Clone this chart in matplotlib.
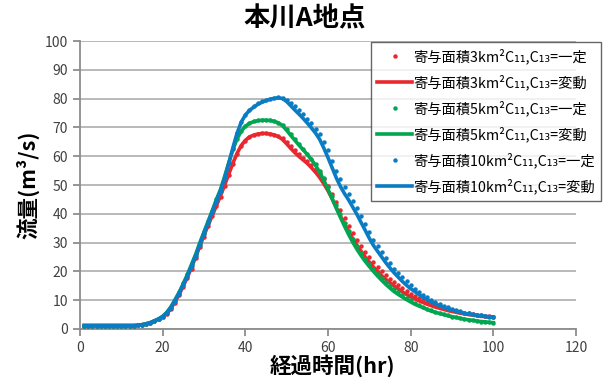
import numpy as np
import matplotlib
matplotlib.use('Agg')
import matplotlib.pyplot as plt
from matplotlib.lines import Line2D

plt.rcParams['font.family'] = ['Noto Sans CJK JP', 'DejaVu Sans']

hours = np.arange(1, 101)

# 寄与面積3km2 (red)
red_const = [1.2] * 13 + [
    1.3, 1.5, 1.8, 2.2, 2.7, 3.3, 4.0, 5.2, 6.9, 9.2,
    11.7, 14.6, 17.6, 21.0, 24.5, 28.3, 32.0, 35.6, 39.2, 42.6,
    46.0, 49.6, 53.4, 57.2, 60.6, 63.4, 65.3, 66.6, 67.3, 67.7,
    67.9, 67.9, 67.8, 67.5, 67.0, 66.2, 64.9, 63.4, 62.0, 60.7,
    59.5, 58.3, 57.0, 55.6, 54.0, 52.0, 49.6, 47.0, 44.2, 41.3,
    38.5, 35.8, 33.3, 31.0, 28.9, 26.9, 25.0, 23.3, 21.7, 20.2,
    18.8, 17.5, 16.3, 15.2, 14.2, 13.2, 12.3, 11.5, 10.8, 10.1,
    9.5, 8.9, 8.4, 7.9, 7.4, 7.0, 6.6, 6.3, 6.0, 5.7,
    5.4, 5.2, 5.0, 4.8, 4.6, 4.4, 4.2]
red_var = [1.2] * 13 + [
    1.3, 1.5, 1.8, 2.2, 2.8, 3.4, 4.1, 5.3, 7.1, 9.5,
    12.0, 15.0, 18.0, 21.5, 25.0, 28.8, 32.5, 36.0, 39.4, 42.8,
    46.3, 50.0, 53.8, 57.6, 61.0, 63.7, 65.5, 66.7, 67.3, 67.7,
    67.9, 67.9, 67.7, 67.4, 66.8, 65.8, 64.3, 62.7, 61.2, 59.9,
    58.7, 57.5, 56.0, 54.4, 52.6, 50.4, 48.0, 45.2, 42.2, 39.2,
    36.4, 33.8, 31.3, 29.0, 27.0, 25.0, 23.2, 21.5, 20.0, 18.5,
    17.2, 16.0, 14.9, 13.9, 12.9, 12.0, 11.2, 10.5, 9.8, 9.2,
    8.6, 8.1, 7.6, 7.2, 6.8, 6.4, 6.1, 5.8, 5.5, 5.3,
    5.0, 4.8, 4.6, 4.4, 4.3, 4.1, 4.0]

# 寄与面積5km2 (green)
green_const = [1.2] * 13 + [
    1.3, 1.5, 1.8, 2.2, 2.8, 3.5, 4.4, 5.8, 7.7, 10.2,
    12.8, 15.8, 19.0, 22.5, 26.0, 30.0, 33.7, 37.4, 41.1, 45.0,
    48.6, 53.1, 57.9, 62.4, 66.1, 68.8, 70.5, 71.5, 72.1, 72.4,
    72.6, 72.6, 72.5, 72.2, 71.7, 70.8, 69.4, 67.6, 65.8, 64.1,
    62.5, 60.9, 59.2, 57.3, 55.0, 52.3, 49.3, 46.2, 43.0, 39.8,
    36.8, 33.9, 31.2, 28.7, 26.4, 24.4, 22.5, 20.8, 19.2, 17.7,
    16.3, 15.0, 13.8, 12.7, 11.7, 10.8, 9.9, 9.1, 8.4, 7.7,
    7.1, 6.5, 6.0, 5.5, 5.1, 4.7, 4.3, 4.0, 3.7, 3.4,
    3.2, 3.0, 2.8, 2.6, 2.4, 2.3, 2.2]
green_var = [1.2] * 13 + [
    1.3, 1.5, 1.8, 2.2, 2.8, 3.5, 4.4, 5.8, 7.7, 10.2,
    12.8, 15.8, 19.0, 22.5, 26.0, 30.0, 33.7, 37.4, 41.1, 45.0,
    48.5, 53.0, 57.8, 62.3, 66.0, 68.7, 70.4, 71.4, 72.0, 72.3,
    72.5, 72.5, 72.4, 72.1, 71.6, 70.6, 69.0, 67.2, 65.5, 63.8,
    62.2, 60.6, 58.8, 56.8, 54.4, 51.6, 48.5, 45.3, 42.0, 38.8,
    35.7, 32.8, 30.1, 27.7, 25.5, 23.5, 21.7, 20.0, 18.4, 16.9,
    15.5, 14.2, 13.0, 12.0, 11.1, 10.2, 9.4, 8.6, 8.0, 7.4,
    6.8, 6.2, 5.8, 5.4, 5.0, 4.6, 4.3, 4.0, 3.7, 3.4,
    3.2, 3.0, 2.8, 2.6, 2.5, 2.3, 2.2]

# 寄与面積10km2 (blue)
blue_const = [1.2] * 13 + [
    1.3, 1.5, 1.8, 2.2, 2.8, 3.5, 4.3, 5.6, 7.4, 9.8,
    12.3, 15.3, 18.3, 21.8, 25.3, 29.2, 33.1, 36.9, 40.7, 44.5,
    48.0, 52.5, 57.5, 63.0, 68.0, 71.8, 74.4, 76.2, 77.5, 78.4,
    79.1, 79.6, 80.0, 80.3, 80.5, 80.3, 79.6, 78.5, 77.3, 76.0,
    74.6, 73.0, 71.4, 69.6, 67.6, 65.0, 62.0, 58.5, 55.0, 52.0,
    49.3, 47.0, 44.5, 42.0, 39.3, 36.5, 33.6, 31.0, 28.8, 26.7,
    24.7, 22.8, 21.0, 19.4, 17.9, 16.5, 15.2, 14.0, 12.9, 11.9,
    11.0, 10.1, 9.4, 8.7, 8.1, 7.5, 7.0, 6.5, 6.1, 5.7,
    5.4, 5.1, 4.9, 4.7, 4.5, 4.3, 4.2]
blue_var = [1.2] * 13 + [
    1.3, 1.5, 1.8, 2.2, 2.8, 3.5, 4.3, 5.6, 7.5, 10.0,
    12.5, 15.5, 18.5, 22.0, 25.5, 29.5, 33.3, 37.0, 40.8, 44.5,
    48.0, 52.5, 57.5, 63.0, 68.0, 71.8, 74.3, 75.9, 77.0, 78.0,
    78.7, 79.3, 79.8, 80.1, 80.3, 80.0, 79.0, 77.5, 76.0, 74.6,
    73.1, 71.5, 69.8, 68.0, 65.8, 62.8, 59.5, 56.0, 52.5, 49.5,
    47.0, 44.8, 42.3, 39.8, 37.0, 34.3, 31.5, 29.0, 27.0, 25.0,
    23.0, 21.2, 19.5, 18.0, 16.5, 15.2, 14.0, 13.0, 12.0, 11.0,
    10.2, 9.4, 8.7, 8.1, 7.5, 7.0, 6.6, 6.2, 5.8, 5.5,
    5.2, 5.0, 4.8, 4.6, 4.4, 4.3, 4.2]

labels = ['寄与面積3km²C₁₁,C₁₃=一定', '寄与面積3km²C₁₁,C₁₃=変動',
          '寄与面積5km²C₁₁,C₁₃=一定', '寄与面積5km²C₁₁,C₁₃=変動',
          '寄与面積10km²C₁₁,C₁₃=一定', '寄与面積10km²C₁₁,C₁₃=変動']
colors = ['#e8282e', '#00a650', '#0a7cc4']

fig = plt.figure(figsize=(6.03, 3.79), dpi=100)
ax = fig.add_axes([80 / 603, 1 - 329 / 379, 496 / 603, 288 / 379])

series = [(red_const, red_var), (green_const, green_var), (blue_const, blue_var)]
handles = []
for (const, var), c, i in zip(series, colors, range(3)):
    ax.plot(hours, const, linestyle='none', marker='o', ms=3.2, color=c,
            markeredgewidth=0, zorder=3 + 2 * i)
    ax.plot(hours, var, color=c, lw=2.6, zorder=4 + 2 * i)
    handles.append(Line2D([], [], linestyle='none', marker='o', ms=3.2,
                          color=c, markeredgewidth=0))
    handles.append(Line2D([], [], color=c, lw=2.6))

ax.set_xlim(0, 120)
ax.set_ylim(0, 100)
ax.set_xticks(np.arange(0, 121, 20))
ax.set_yticks(np.arange(0, 101, 10))
ax.grid(axis='y', color='#a6a6a6', lw=1.1)
ax.set_axisbelow(True)
for s in ['top', 'right']:
    ax.spines[s].set_visible(False)
for s in ['left', 'bottom']:
    ax.spines[s].set_color('#8c8c8c')
    ax.spines[s].set_linewidth(1.3)
ax.tick_params(colors='#8c8c8c', labelcolor='#404040', labelsize=10,
               length=5, width=1.3)

# title is centred on the whole chart, not the plot area
fig.text(305 / 603, 1 - 19 / 379, '本川A地点', fontsize=19, fontweight='bold',
         ha='center', va='center')
fig.text(332 / 603, 1 - 366 / 379, '経過時間(hr)', fontsize=15.5,
         fontweight='bold', ha='center', va='center')
ax.set_ylabel('流量(m³/s)', fontsize=15.5, fontweight='bold', labelpad=4)

leg = fig.legend(handles, labels, loc='upper left',
                 bbox_to_anchor=(371 / 603, 1 - 42 / 379), fontsize=10.3,
                 frameon=True, fancybox=False, edgecolor='#404040',
                 handlelength=2.4, labelspacing=0.72, borderpad=0.45,
                 handletextpad=0.1, borderaxespad=0)
leg.get_frame().set_linewidth(1.0)

fig.savefig('out.png', dpi=100)
